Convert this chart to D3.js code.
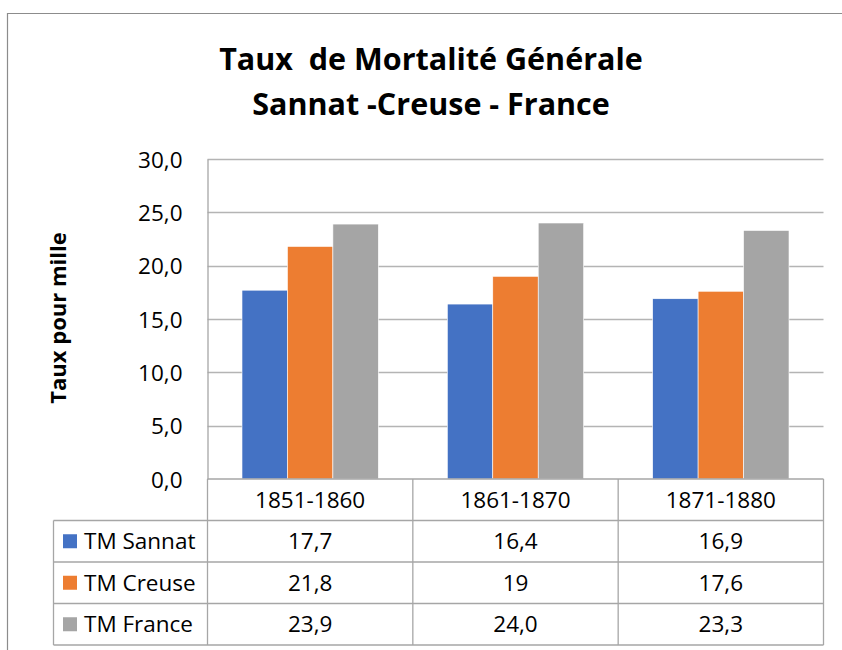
<!DOCTYPE html>
<html>
<head>
<meta charset="utf-8">
<script src="https://cdn.jsdelivr.net/npm/d3@7"></script>
<style>
  body { margin: 0; background: #fff; }
  text { font-family: "Open Sans", sans-serif; fill: #000; }
</style>
</head>
<body>
<div id="chart"></div>
<script>
var TITLE = ["Taux  de Mortalité Générale", "Sannat -Creuse - France"];
var Y_LABEL = "Taux pour mille";
var PERIODS = ["1851-1860", "1861-1870", "1871-1880"];
var SERIES = ["TM Sannat", "TM Creuse", "TM France"];
var SANNAT = [17.7, 16.4, 16.9];
var CREUSE = [21.8, 19, 17.6];
var FRANCE = [23.9, 24.0, 23.3];
// how the data table prints them (Excel kept "19" as typed)
var SANNAT_LABELS = ["17,7", "16,4", "16,9"];
var CREUSE_LABELS = ["21,8", "19", "17,6"];
var FRANCE_LABELS = ["23,9", "24,0", "23,3"];
var Y_TICKS = [0, 5, 10, 15, 20, 25, 30];

var COLORS = ["#4472C4", "#ED7D31", "#A5A5A5"];

var rows = [
  {name: SERIES[0], values: SANNAT, labels: SANNAT_LABELS},
  {name: SERIES[1], values: CREUSE, labels: CREUSE_LABELS},
  {name: SERIES[2], values: FRANCE, labels: FRANCE_LABELS}
];

var width = 842,
    height = 650;

var plot = {left: 207.5, right: 823.5, top: 159, bottom: 479};
var legendLeft = 53.5;
var rowH = 41.5;

var svg = d3.select("#chart").append("svg")
    .attr("width", width)
    .attr("height", height);

// chart frame (only top and left edges are inside the picture)
svg.append("path")
    .attr("d", "M7.5,650V13.5H842")
    .attr("fill", "none")
    .attr("stroke", "#8c8c8c")
    .attr("stroke-width", 1.2);

// title
svg.append("g").selectAll("text")
    .data(TITLE)
  .enter().append("text")
    .attr("x", 431)
    .attr("y", function(d, i) { return 69.5 + i * 45.5; })
    .attr("text-anchor", "middle")
    .attr("font-size", "30.5px")
    .attr("font-weight", "bold")
    .style("white-space", "pre")
    .text(function(d) { return d; });

var x0 = d3.scaleBand()
    .domain(PERIODS)
    .range([plot.left, plot.right]);

var bw = x0.bandwidth();

var x1 = d3.scaleBand()
    .domain(SERIES)
    .range([bw * 0.168, bw * 0.832]);

var y = d3.scaleLinear()
    .domain([0, 30])
    .range([plot.bottom, plot.top]);

// gridlines
svg.append("g")
    .selectAll("line")
    .data(Y_TICKS.slice(1))
  .enter().append("line")
    .attr("x1", plot.left)
    .attr("x2", plot.right)
    .attr("y1", function(d) { return Math.round(y(d)) + 0.5; })
    .attr("y2", function(d) { return Math.round(y(d)) + 0.5; })
    .attr("stroke", "#b4b4b4")
    .attr("stroke-width", 1.3);

// y axis
var yAxis = svg.append("g")
    .attr("transform", "translate(" + plot.left + ",0)")
    .call(d3.axisLeft(y)
      .tickValues(Y_TICKS)
      .tickSize(0)
      .tickPadding(25)
      .tickFormat(function(d) { return d3.format(".1f")(d).replace(".", ","); }));

yAxis.select(".domain")
    .attr("stroke", "#a6a6a6")
    .attr("stroke-width", 1.3);

yAxis.selectAll("text")
    .attr("font-family", "Open Sans, sans-serif")
    .attr("font-size", "22.5px")
    .attr("fill", "#000")
    .attr("dy", "0.36em");

svg.append("text")
    .attr("transform", "translate(66,318) rotate(-90)")
    .attr("text-anchor", "middle")
    .attr("font-size", "22px")
    .attr("font-weight", "bold")
    .text(Y_LABEL);

// bars
var groups = svg.append("g")
    .selectAll("g")
    .data(rows)
  .enter().append("g")
    .attr("fill", function(d, i) { return COLORS[i]; });

groups.selectAll("rect")
    .data(function(d) {
      return d.values.map(function(v, j) { return {name: d.name, period: PERIODS[j], value: v}; });
    })
  .enter().append("rect")
    .attr("x", function(d) { return x0(d.period) + x1(d.name); })
    .attr("y", function(d) { return y(d.value); })
    .attr("width", x1.bandwidth())
    .attr("height", function(d) { return y(0) - y(d.value); })
    .attr("stroke", "#fff")
    .attr("stroke-width", 0.6);

// data table
var table = svg.append("g");
var lineColor = "#a6a6a6";
var tableBottom = plot.bottom + rowH * 4;

// horizontal rules
table.selectAll("line.h")
    .data([0, 1, 2, 3, 4])
  .enter().append("line")
    .attr("class", "h")
    .attr("x1", function(d) { return d === 0 ? plot.left : legendLeft; })
    .attr("x2", plot.right)
    .attr("y1", function(d) { return plot.bottom + d * rowH; })
    .attr("y2", function(d) { return plot.bottom + d * rowH; })
    .attr("stroke", lineColor)
    .attr("stroke-width", 1.3);

// vertical rules
var cuts = PERIODS.map(function(p) { return x0(p); }).concat([plot.right]);
table.selectAll("line.v")
    .data(cuts)
  .enter().append("line")
    .attr("class", "v")
    .attr("x1", function(d) { return d; })
    .attr("x2", function(d) { return d; })
    .attr("y1", plot.bottom)
    .attr("y2", tableBottom)
    .attr("stroke", lineColor)
    .attr("stroke-width", 1.3);

table.append("line")
    .attr("x1", legendLeft)
    .attr("x2", legendLeft)
    .attr("y1", plot.bottom + rowH)
    .attr("y2", tableBottom)
    .attr("stroke", lineColor)
    .attr("stroke-width", 1.3);

// header row
table.selectAll("text.period")
    .data(PERIODS)
  .enter().append("text")
    .attr("class", "period")
    .attr("x", function(d) { return x0(d) + bw / 2; })
    .attr("y", plot.bottom + rowH / 2)
    .attr("dy", "0.36em")
    .attr("text-anchor", "middle")
    .attr("font-size", "22.5px")
    .text(function(d) { return d; });

var tr = table.selectAll("g.row")
    .data(rows)
  .enter().append("g")
    .attr("class", "row")
    .attr("transform", function(d, i) { return "translate(0," + (plot.bottom + rowH * (i + 1.5)) + ")"; });

tr.append("rect")
    .attr("x", 63)
    .attr("y", -7)
    .attr("width", 14)
    .attr("height", 14)
    .attr("fill", function(d, i) { return COLORS[i]; });

tr.append("text")
    .attr("x", 84)
    .attr("dy", "0.36em")
    .attr("font-size", "22.5px")
    .text(function(d) { return d.name; });

tr.selectAll("text.val")
    .data(function(d) { return d.labels; })
  .enter().append("text")
    .attr("class", "val")
    .attr("x", function(d, j) { return x0(PERIODS[j]) + bw / 2; })
    .attr("dy", "0.36em")
    .attr("text-anchor", "middle")
    .attr("font-size", "22.5px")
    .text(function(d) { return d; });
</script>
</body>
</html>
